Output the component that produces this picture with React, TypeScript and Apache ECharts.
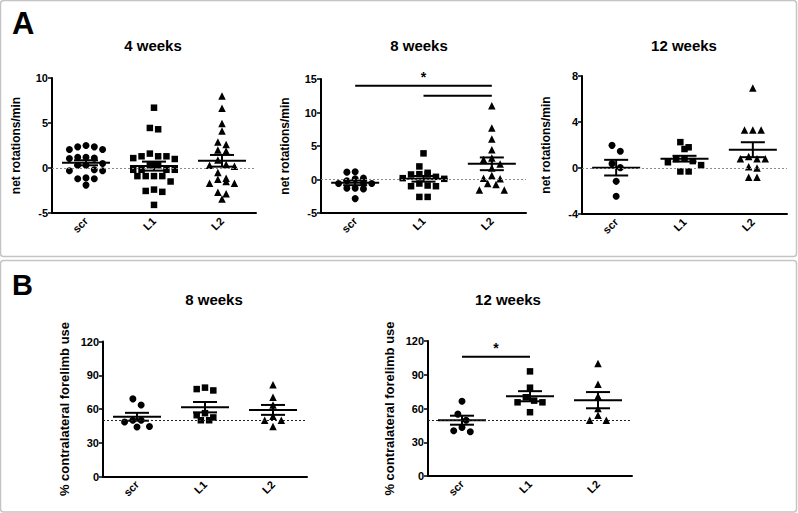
import React, { useEffect, useRef } from 'react';
import * as echarts from 'echarts';

const categories = ['scr', 'L1', 'L2'];

// A: net rotations/min
const rot4Scr = [2.5, 2.35, 2.05, 2.05, 2.35, 1.2, 1.1, 1.2, 1.05, 0.5, 0.3, 0.3, -0.2, -0.3, -0.3, -1.1, -1.2, -1.2, -1.9];
const rot4L1 = [6.7, 4.45, 4.3, 1.6, 1.3, 1.1, 1.3, 1.3, 1.0, 0.3, 0.3, -0.2, -0.2, -0.2, -0.2, -0.9, -0.9, -0.9, -0.9, -1.5, -2.4, -2.55, -2.65, -4.1];
const rot4L2 = [8.0, 6.65, 4.95, 4.1, 2.9, 2.6, 2.0, 1.9, 0.9, 0.4, 0.3, 0.2, -0.5, -1.15, -1.25, -1.5, -1.7, -1.7, -2.7, -2.85, -3.45];
const rot4Mean = [0.58, 0.21, 0.8];
const rot4Sem = [0.28, 0.5, 0.65];

const rot8Scr = [1.15, 1.1, 0.2, 0.1, -0.2, -0.5, -0.6, -0.6, -1.3, -1.3, -1.4, -2.85];
const rot8L1 = [3.9, 1.95, 1.0, 0.8, 0.75, 0.75, 0.4, 0.2, 0.1, -0.6, -0.9, -1.0, -1.0, -2.6, -2.6];
const rot8L2 = [11.0, 7.7, 6.05, 4.45, 3.2, 3.0, 2.3, 1.7, 0.6, 0.2, 0.1, -0.6, -0.75, -1.55, -1.55];
const rot8Mean = [-0.5, 0.1, 2.34];
const rot8Sem = [0.35, 0.42, 0.95];
const rot8Sig = [[0, 2, 14], [1, 2, 12.5]];

const rot12Scr = [1.97, 1.45, 0.38, 0.03, -1.16, -2.46];
const rot12L1 = [2.25, 1.8, 1.65, 0.8, 0.78, 0.6, 0.5, 0.25, -0.3, -0.3];
const rot12L2 = [6.95, 3.3, 3.3, 3.3, 1.0, 0.8, 0.8, 0.8, 0.1, 0.0, -0.8, -0.8];
const rot12Mean = [0.03, 0.81, 1.59];
const rot12Sem = [0.68, 0.25, 0.65];

// B: % contralateral forelimb use
const fl8Scr = [69, 63.5, 50, 48.5, 50, 44, 44.5];
const fl8L1 = [79, 77.7, 76.5, 56.3, 54.5, 52.5, 50, 50];
const fl8L2 = [81.5, 70.5, 63.5, 53.5, 50, 50, 44.5];
const fl8Mean = [53.1, 61.6, 59.2];
const fl8Sem = [3.5, 4.6, 4.4];

const fl12Scr = [66.5, 55, 49.6, 43.2, 40.3, 39.3];
const fl12L1 = [93, 78.5, 70, 67, 65.5, 65.5, 56.7];
const fl12L2 = [100, 81.5, 71, 60, 54, 49.6, 49.6];
const fl12Mean = [49.6, 70.9, 67.4];
const fl12Sem = [4.0, 4.5, 7.2];
const fl12Sig = [[0, 1, 106]];

const FONT = '"Liberation Sans", Arial, Helvetica, sans-serif';
const symbols = ['circle', 'rect', 'triangle'];

type Panel = {
  title: string; titleX: number; titleY: number;
  left: number; top: number; width: number; height: number;
  min: number; max: number; interval: number; ref: number; refColor: string;
  name: string; nameGap: number;
  groups: number[][]; mean: number[]; sem: number[]; sig: number[][];
};

const panels: Panel[] = [
  { title: '4 weeks', titleX: 153, titleY: 45, left: 52, top: 78, width: 204, height: 135, min: -5, max: 10, interval: 5, ref: 0, refColor: '#8a8a8a', name: 'net rotations/min', nameGap: 30, groups: [rot4Scr, rot4L1, rot4L2], mean: rot4Mean, sem: rot4Sem, sig: [] },
  { title: '8 weeks', titleX: 419, titleY: 45, left: 321, top: 79, width: 205, height: 134, min: -5, max: 15, interval: 5, ref: 0, refColor: '#8a8a8a', name: 'net rotations/min', nameGap: 30, groups: [rot8Scr, rot8L1, rot8L2], mean: rot8Mean, sem: rot8Sem, sig: rot8Sig },
  { title: '12 weeks', titleX: 684, titleY: 45, left: 582, top: 76, width: 205, height: 138, min: -4, max: 8, interval: 4, ref: 0, refColor: '#8a8a8a', name: 'net rotations/min', nameGap: 30, groups: [rot12Scr, rot12L1, rot12L2], mean: rot12Mean, sem: rot12Sem, sig: [] },
  { title: '8 weeks', titleX: 214, titleY: 299, left: 103, top: 341.5, width: 204, height: 135, min: 0, max: 120, interval: 30, ref: 50, refColor: '#222', name: '% contralateral forelimb use', nameGap: 32, groups: [fl8Scr, fl8L1, fl8L2], mean: fl8Mean, sem: fl8Sem, sig: [] },
  { title: '12 weeks', titleX: 508, titleY: 299, left: 428, top: 341, width: 204, height: 135, min: 0, max: 120, interval: 30, ref: 50, refColor: '#222', name: '% contralateral forelimb use', nameGap: 32, groups: [fl12Scr, fl12L1, fl12L2], mean: fl12Mean, sem: fl12Sem, sig: fl12Sig },
];

// GraphPad-like scatter layout: bin points into rows, spread each row around the category centre
function swarm(values: number[], cat: number, pxPerUnit: number, catPx: number) {
  const sorted = [...values].sort((a, b) => b - a);
  const rows: number[][] = [];
  let cur: number[] = [];
  let start: number | null = null;
  for (const v of sorted) {
    if (start === null || (start - v) * pxPerUnit > 6.5) {
      if (cur.length) rows.push(cur);
      cur = [v];
      start = v;
    } else cur.push(v);
  }
  if (cur.length) rows.push(cur);
  const colPx = 8.3;
  const out: number[][] = [];
  rows.forEach((row) => {
    const n = row.length;
    const cols: number[] = [];
    if (n % 2 === 1) {
      cols.push(0);
      for (let k = 1; cols.length < n; k++) { cols.push(-k); if (cols.length < n) cols.push(k); }
    } else {
      for (let k = 0.5; cols.length < n; k++) { cols.push(-k); cols.push(k); }
    }
    row.forEach((v, i) => out.push([cat + (cols[i] * colPx) / catPx, v]));
  });
  return out;
}

function buildOption() {
  const grid: any[] = [];
  const xAxis: any[] = [];
  const yAxis: any[] = [];
  const series: any[] = [];
  const graphic: any[] = [];

  graphic.push({ type: 'rect', shape: { x: 0.5, y: 0.5, width: 796, height: 256, r: 3 }, style: { fill: 'none', stroke: '#c4c4c4', lineWidth: 1.5 }, silent: true });
  graphic.push({ type: 'rect', shape: { x: 0.5, y: 260.5, width: 796, height: 251.5, r: 3 }, style: { fill: 'none', stroke: '#c4c4c4', lineWidth: 1.5 }, silent: true });
  graphic.push({ type: 'text', x: 12, y: 8, style: { text: 'A', font: `bold 31px ${FONT}`, fill: '#000' } });
  graphic.push({ type: 'text', x: 12, y: 270, style: { text: 'B', font: `bold 29px ${FONT}`, fill: '#000' } });

  panels.forEach((p, i) => {
    graphic.push({ type: 'text', x: p.titleX, y: p.titleY, style: { text: p.title, font: `bold 15px ${FONT}`, fill: '#000', align: 'center', verticalAlign: 'middle', textAlign: 'center', textVerticalAlign: 'middle' } });
    grid.push({ left: p.left, top: p.top, width: p.width, height: p.height, containLabel: false });
    xAxis.push({
      type: 'category', gridIndex: i, data: categories, boundaryGap: true, position: 'bottom',
      axisLine: { onZero: false, lineStyle: { color: '#000', width: 2 } },
      axisTick: { alignWithLabel: true, length: 4, lineStyle: { color: '#000', width: 1.5 } },
      axisLabel: { rotate: 45, margin: 6, color: '#000', fontFamily: FONT, fontWeight: 'bold', fontSize: 11 },
      splitLine: { show: false },
    });
    xAxis.push({ type: 'value', gridIndex: i, min: -0.5, max: 2.5, show: false, splitLine: { show: false } });
    yAxis.push({
      type: 'value', gridIndex: i, min: p.min, max: p.max, interval: p.interval, position: 'left',
      name: p.name, nameLocation: 'middle', nameGap: p.nameGap, nameRotate: 90,
      nameTextStyle: { color: '#000', fontFamily: FONT, fontWeight: 'bold', fontSize: i < 3 ? 12 : 13 },
      axisLine: { show: true, onZero: false, lineStyle: { color: '#000', width: 2 } },
      axisTick: { show: true, length: 4, lineStyle: { color: '#000', width: 1.5 } },
      axisLabel: { color: '#000', fontFamily: FONT, fontWeight: 'bold', fontSize: 11, margin: 4 },
      splitLine: { show: false },
    });
    const pxPerUnit = p.height / (p.max - p.min);
    const catPx = p.width / 3;
    p.groups.forEach((vals, g) => {
      const s: any = {
        type: 'scatter', xAxisIndex: 2 * i + 1, yAxisIndex: i,
        symbol: symbols[g], symbolSize: g === 2 ? 7.5 : g === 1 ? 6.5 : 7,
        itemStyle: { color: '#000', opacity: 1 },
        data: swarm(vals, g, pxPerUnit, catPx), z: 3,
      };
      if (g === 0) {
        s.markLine = {
          silent: true, symbol: ['none', 'none'], label: { show: false },
          lineStyle: { type: [2, 2], color: p.refColor, width: 1 },
          data: [{ yAxis: p.ref }], animation: false,
        };
      }
      series.push(s);
    });
    series.push({
      type: 'custom', xAxisIndex: 2 * i + 1, yAxisIndex: i, z: 4,
      encode: { x: 0, y: 1 },
      data: p.mean.map((m, k) => [k, m, p.sem[k]]),
      renderItem: (params: any, api: any) => {
        const x = api.value(0), m = api.value(1), s = api.value(2);
        const c = api.coord([x, m]);
        const t = api.coord([x, m + s]);
        const b = api.coord([x, m - s]);
        const style = { stroke: '#000', lineWidth: 2 };
        return {
          type: 'group', children: [
            { type: 'line', shape: { x1: c[0] - 24, y1: c[1], x2: c[0] + 24, y2: c[1] }, style },
            { type: 'line', shape: { x1: c[0] - 12, y1: t[1], x2: c[0] + 12, y2: t[1] }, style },
            { type: 'line', shape: { x1: c[0] - 12, y1: b[1], x2: c[0] + 12, y2: b[1] }, style },
            { type: 'line', shape: { x1: c[0], y1: t[1], x2: c[0], y2: b[1] }, style },
          ],
        };
      },
    });
    if (p.sig.length) {
      series.push({
        type: 'custom', xAxisIndex: 2 * i + 1, yAxisIndex: i, z: 4, clip: false,
        encode: { x: [0, 1], y: 2 },
        data: p.sig,
        renderItem: (params: any, api: any) => {
          const a = api.coord([api.value(0), api.value(2)]);
          const b = api.coord([api.value(1), api.value(2)]);
          const children: any[] = [
            { type: 'line', shape: { x1: a[0], y1: a[1], x2: b[0], y2: b[1] }, style: { stroke: '#000', lineWidth: 2 } },
          ];
          if (params.dataIndex === 0) {
            children.push({ type: 'text', x: (a[0] + b[0]) / 2, y: a[1] - 9, style: { text: '*', font: `bold 14px ${FONT}`, fill: '#000', align: 'center', verticalAlign: 'middle' } });
          }
          return { type: 'group', children };
        },
      });
    }
  });

  return { animation: false, backgroundColor: '#fff', grid, xAxis, yAxis, series, graphic };
}

export default function App() {
  const ref = useRef<HTMLDivElement>(null);
  useEffect(() => {
    if (!ref.current) return;
    const chart = echarts.init(ref.current, undefined, { renderer: 'svg' });
    chart.setOption(buildOption() as any);
    return () => chart.dispose();
  }, []);
  return <div ref={ref} style={{ position: 'fixed', left: 0, top: 0, width: 798, height: 513, background: '#fff' }} />;
}
